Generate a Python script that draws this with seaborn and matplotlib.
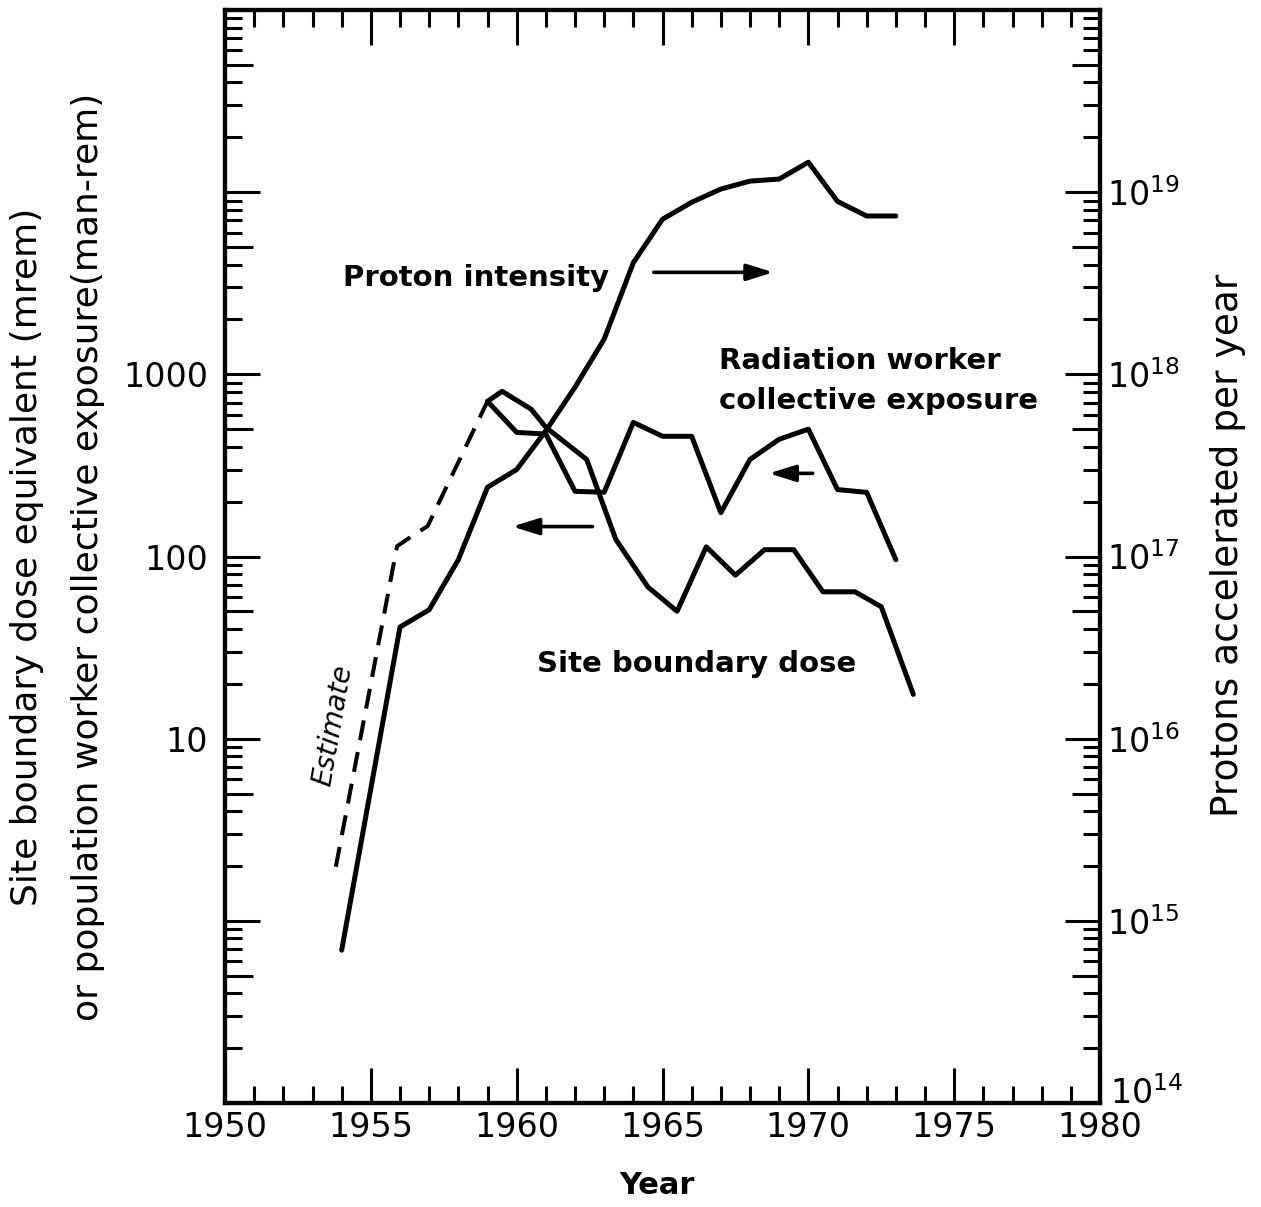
import matplotlib
matplotlib.use("Agg")
import matplotlib.pyplot as plt
import matplotlib.transforms as mtransforms
import seaborn as sns
import numpy as np
from matplotlib.ticker import (FixedLocator, FixedFormatter, NullFormatter,
                               MultipleLocator, NullLocator)

# ---------------- data ----------------
proton_years = [1954, 1956, 1957, 1958, 1959, 1960, 1961, 1962, 1963, 1964,
                1965, 1966, 1967, 1968, 1969, 1970, 1971, 1972, 1973]
protons = [6.9e14, 4.1e16, 5.1e16, 9.6e16, 2.4e17, 3.0e17, 4.9e17, 8.5e17,
           1.56e18, 4.1e18, 7.1e18, 8.8e18, 1.04e19, 1.15e19, 1.18e19,
           1.46e19, 8.9e18, 7.4e18, 7.4e18]

worker_years = [1959, 1960, 1961, 1962, 1963, 1964, 1965, 1966, 1967, 1968,
                1969, 1970, 1971, 1972, 1973]
worker_exposure = [711, 480, 470, 228, 225, 545, 457, 457, 174, 341, 440,
                   500, 233, 225, 96]

site_years = [1959.0, 1959.5, 1960.5, 1961.0, 1962.4, 1963.4, 1964.5, 1965.5,
              1966.5, 1967.5, 1968.5, 1969.5, 1970.5, 1971.6, 1972.5, 1973.6]
site_dose = [711, 807, 643, 512, 341, 124, 68, 50, 113, 79, 109, 109, 64, 64,
             53, 17.5]

estimate_years = [1953.8, 1955.9, 1956.4, 1956.95, 1959.0]
estimate_dose = [1.98, 114, 129, 147, 711]

x_ticks = [1950, 1955, 1960, 1965, 1970, 1975, 1980]
left_major = [0.1, 1, 10, 100, 1000, 1e4, 1e5]
left_labels = ["", "", "10", "100", "1000", "", ""]
right_major = [1e14, 1e15, 1e16, 1e17, 1e18, 1e19, 1e20]
right_labels = ["$10^{14}$", "$10^{15}$", "$10^{16}$", "$10^{17}$",
                "$10^{18}$", "$10^{19}$", ""]

# ---------------- style ----------------
sns.set_style("ticks")
plt.rcParams["font.family"] = ["DejaVu Sans"]
plt.rcParams["mathtext.default"] = "regular"
for k in ("text.color", "axes.labelcolor", "xtick.color", "ytick.color",
          "axes.edgecolor"):
    plt.rcParams[k] = "black"

fig = plt.figure(figsize=(12.61, 12.07), dpi=100)
ax = fig.add_axes([225 / 1261, 104 / 1207, 875 / 1261, 1093 / 1207])
ax2 = ax.twinx()

LW = 3.6
sns.lineplot(x=estimate_years, y=estimate_dose, ax=ax, color="black",
             lw=2.9, linestyle=(0, (5, 3)), estimator=None, sort=False)
sns.lineplot(x=worker_years, y=worker_exposure, ax=ax, color="black",
             lw=LW, estimator=None, sort=False, solid_capstyle="round")
sns.lineplot(x=site_years, y=site_dose, ax=ax, color="black",
             lw=LW, estimator=None, sort=False, solid_capstyle="round")
sns.lineplot(x=proton_years, y=protons, ax=ax2, color="black",
             lw=LW, estimator=None, sort=False, solid_capstyle="round")

ax.set_yscale("log")
ax2.set_yscale("log")
ax.set_xlim(1950, 1980)
ax.set_ylim(0.1, 1e5)
ax2.set_ylim(1e14, 1e20)

# ---------------- ticks ----------------
TW = 2.2
ax.xaxis.set_major_locator(FixedLocator(x_ticks))
ax.xaxis.set_minor_locator(MultipleLocator(1))
ax.tick_params(axis="x", which="major", direction="in", length=25, width=TW,
               top=True, bottom=True, labelsize=24, pad=6)
ax.tick_params(axis="x", which="minor", direction="in", length=12, width=TW,
               top=True, bottom=True)

def minor_log(lo, hi):
    out = []
    for e in range(lo, hi):
        for m in (2, 3, 4, 6, 7, 8, 9):
            out.append(m * 10.0 ** e)
    return out

ax.yaxis.set_major_locator(FixedLocator(left_major))
ax.yaxis.set_major_formatter(FixedFormatter(left_labels))
ax.yaxis.set_minor_locator(FixedLocator(minor_log(-1, 5)))
ax.yaxis.set_minor_formatter(NullFormatter())
ax.tick_params(axis="y", which="major", direction="in", length=25, width=TW,
               left=True, right=False, labelsize=24, pad=12)
ax.tick_params(axis="y", which="minor", direction="in", length=12, width=TW,
               left=True, right=False)

ax2.yaxis.set_major_locator(FixedLocator(right_major))
ax2.yaxis.set_major_formatter(FixedFormatter(right_labels))
ax2.yaxis.set_minor_locator(FixedLocator(minor_log(14, 20)))
ax2.yaxis.set_minor_formatter(NullFormatter())
ax2.tick_params(axis="y", which="major", direction="in", length=25, width=TW,
                right=True, left=False, labelsize=24, pad=5)
ax2.tick_params(axis="y", which="minor", direction="in", length=12, width=TW,
                right=True, left=False)

# medium ticks at 5 x 10^n
secl = ax.secondary_yaxis("left", functions=(lambda v: v, lambda v: v))
secl.set_yticks([5 * 10.0 ** e for e in range(-1, 5)])
secl.set_yticklabels([""] * 6)
secl.yaxis.set_minor_locator(NullLocator())
secl.tick_params(axis="y", direction="in", length=20, width=TW)
secl.spines["left"].set_visible(False)

secr = ax2.secondary_yaxis("right", functions=(lambda v: v, lambda v: v))
secr.set_yticks([5 * 10.0 ** e for e in range(14, 20)])
secr.set_yticklabels([""] * 6)
secr.yaxis.set_minor_locator(NullLocator())
secr.tick_params(axis="y", direction="in", length=20, width=TW)
secr.spines["right"].set_visible(False)

for a in (ax, ax2):
    for s in a.spines.values():
        s.set_linewidth(3)
        s.set_color("black")

# lift the bottom right label a little so it clears "1980"
lift = mtransforms.ScaledTranslation(2 / 72, 9 / 72, fig.dpi_scale_trans)
ax2.get_yticklabels()[0].set_transform(
    ax2.get_yticklabels()[0].get_transform() + lift)

# ---------------- labels ----------------
ax.set_xlabel("Year", fontsize=22, fontweight="bold")
ax.xaxis.set_label_coords(0.494, -0.062)
ax.set_ylabel("Site boundary dose equivalent (mrem)\n"
              "or population worker collective exposure(man-rem)",
              fontsize=26, linespacing=2.0)
ax.yaxis.set_label_coords(-0.191, 0.5)
ax.yaxis.label.set_verticalalignment("center")
ax2.set_ylabel("Protons accelerated per year", fontsize=27)
ax2.yaxis.set_label_coords(1.146, 0.51)
ax2.yaxis.label.set_verticalalignment("center")

# ---------------- annotations ----------------
TF = dict(fontsize=21, fontweight="bold", color="black")
ax.text(1954.05, 3045, "Proton intensity", ha="left", va="baseline", **TF)
ax.text(1966.95, 1065, "Radiation worker", ha="left", va="baseline", **TF)
ax.text(1966.95, 643, "collective exposure", ha="left", va="baseline", **TF)
ax.text(1960.7, 23.3, "Site boundary dose", ha="left", va="baseline", **TF)
ax.text(1953.7, 11.9, "Estimate", rotation=80, ha="center", va="center",
        fontsize=20, fontstyle="italic", rotation_mode="anchor",
        color="black")

AP = dict(arrowstyle="-|>,head_length=0.8,head_width=0.25", lw=2.6,
          color="black", mutation_scale=20, shrinkA=0, shrinkB=0)
ax.annotate("", xy=(1968.8, 3630), xytext=(1964.7, 3630), arrowprops=AP)
ax.annotate("", xy=(1968.65, 286), xytext=(1970.15, 286), arrowprops=AP)
ax.annotate("", xy=(1959.85, 146), xytext=(1962.6, 146), arrowprops=AP)

fig.savefig("out.png", dpi=100)
